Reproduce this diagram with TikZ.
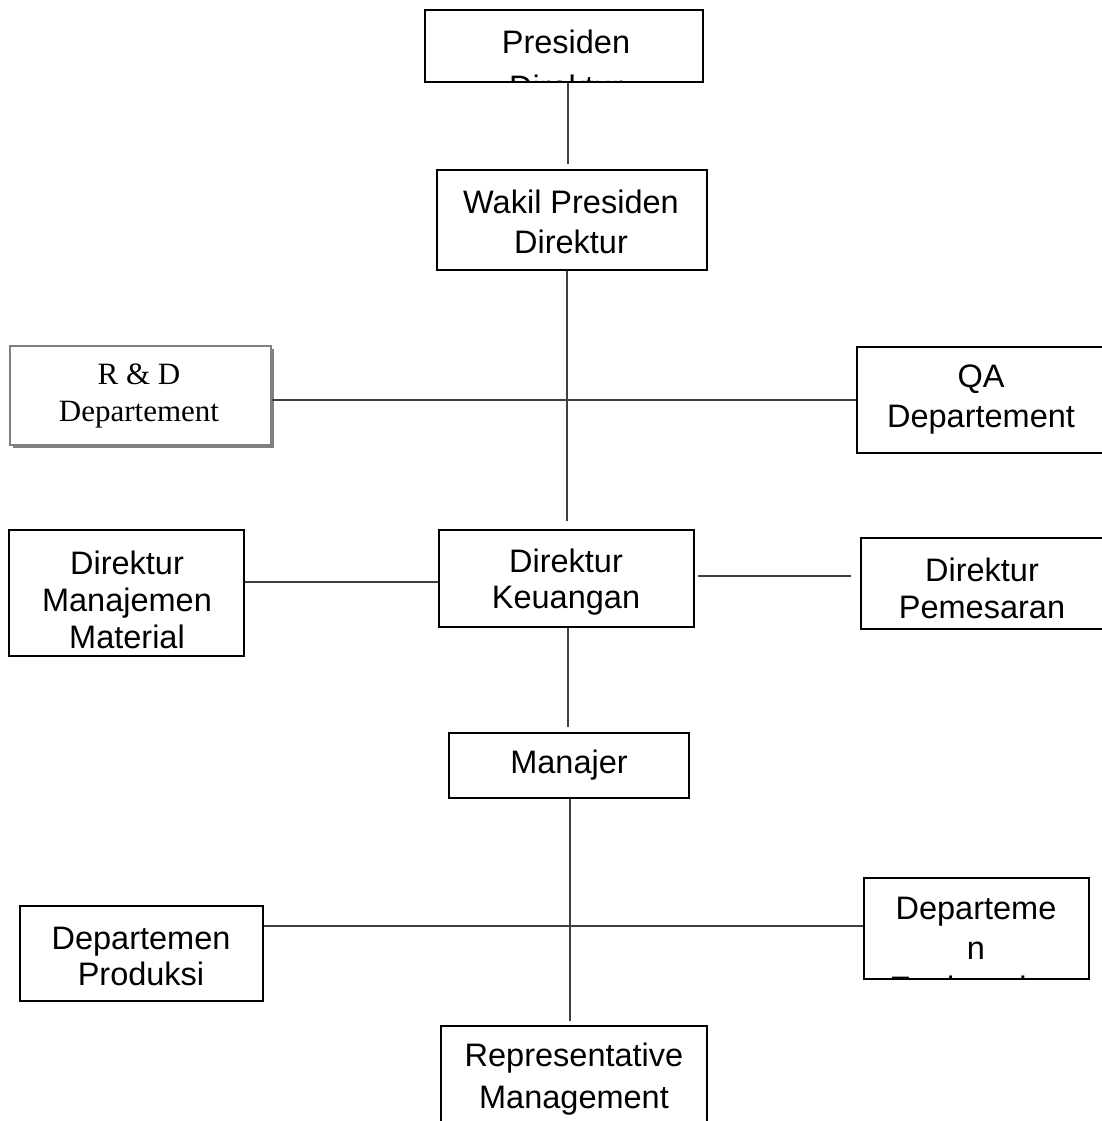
\documentclass[tikz,border=0pt]{standalone}
\usepackage{fontspec}
\setmainfont{Liberation Sans}
\newfontfamily\rdfont{Liberation Serif}
\begin{document}
\begin{tikzpicture}[x=1pt,y=-1pt,
  box/.style={draw=black, line width=1.9pt, rectangle, inner sep=0pt},
  txt/.style={align=center, inner sep=0pt, font=\fontsize{32.5}{40}\selectfont},
  conn/.style={draw=black!75, line width=1.2pt}]
\useasboundingbox (0,0) rectangle (1102,1121);
\fill[white] (0,0) rectangle (1102,1121);

% x / y guide coordinates for connectors
\coordinate (xa) at (568,0);
\coordinate (xb) at (567,0);
\coordinate (xc) at (568,0);
\coordinate (xd) at (570,0);
\coordinate (ya) at (0,400);
\coordinate (yb) at (0,582);
\coordinate (yc) at (0,576);
\coordinate (yd) at (0,926);

% Presiden Direktur (text clipped by box)
\node[box, minimum width=278pt, minimum height=72pt] (pres) at (564,46) {};
\begin{scope}
  \clip (pres.south west) rectangle (pres.north east);
  \node[txt, font=\fontsize{32.5}{45}\selectfont] (prest) at (566,64) {Presiden\\Direktur};
\end{scope}
\node[box, minimum width=278pt, minimum height=72pt] at (pres) {};

% Wakil Presiden Direktur
\node[box, minimum width=270pt, minimum height=100pt] (wakil) at (572,220) {};
\node[txt] (wakilt) at (571,222) {Wakil Presiden\\Direktur};

% R & D Departement
\fill[black!50] (13,349) rectangle (274,448);
\node[box, draw=black!50, fill=white, line width=2pt, minimum width=261pt, minimum height=99pt] (rd) at (140.5,395.5) {};
\node[txt, font=\rdfont\fontsize{31}{37}\selectfont, text=black] (rdt) at (139,396) {R \& D\\Departement};

% QA Departement
\node[box, minimum width=250pt, minimum height=106pt] (qa) at (982,400) {};
\node[txt] (qat) at (981,400) {QA\\Departement};

% Direktur Manajemen Material
\node[box, minimum width=235pt, minimum height=126pt] (mm) at (126.5,593) {};
\node[txt, font=\fontsize{32.5}{37}\selectfont] (mmt) at (127,600) {Direktur\\Manajemen\\Material};

% Direktur Keuangan
\node[box, minimum width=255pt, minimum height=97pt] (keu) at (566.5,578.5) {};
\node[txt, font=\fontsize{32.5}{36}\selectfont] (keut) at (566,582) {Direktur\\Keuangan};

% Direktur Pemesaran
\node[box, minimum width=250pt, minimum height=91pt] (pem) at (986,583.5) {};
\node[txt, font=\fontsize{32.5}{37}\selectfont] (pemt) at (982,588) {Direktur\\Pemesaran};

% Manajer
\node[box, minimum width=240pt, minimum height=65pt] (man) at (569,765.5) {};
\node[txt] (mant) at (569,765) {Manajer};

% Departemen Produksi
\node[box, minimum width=243pt, minimum height=95pt] (prod) at (141.5,953.5) {};
\node[txt, font=\fontsize{32.5}{36}\selectfont] (prodt) at (141,956) {Departemen\\Produksi};

% Departemen Engineering (text clipped by box)
\node[box, minimum width=225pt, minimum height=101pt] (deng) at (976.5,928.5) {};
\begin{scope}
  \clip (deng.south west) rectangle (deng.north east);
  \node[txt, font=\fontsize{32.5}{40}\selectfont] (dengt) at (976,952) {Departeme\\n\\Engineering};
\end{scope}
\node[box, minimum width=225pt, minimum height=101pt] at (deng) {};

% Representative Management
\node[box, minimum width=266pt, minimum height=100pt] (rep) at (574,1076) {};
\node[txt, font=\fontsize{32.5}{42}\selectfont] (rept) at (574,1079) {Representative\\Management};

% connectors
\draw[conn, shorten >=5pt] (pres.south -| xa) -- (wakil.north -| xa);
\draw[conn, shorten >=8pt] (wakil.south -| xb) -- (keu.north -| xb);
\draw[conn] (rd.east |- ya) -- (qa.west |- ya);
\draw[conn] (mm.east |- yb) -- (keu.west |- yb);
\draw[conn, shorten <=3pt, shorten >=9pt] (keu.east |- yc) -- (pem.west |- yc);
\draw[conn, shorten >=5pt] (keu.south -| xc) -- (man.north -| xc);
\draw[conn, shorten >=4pt] (man.south -| xd) -- (rep.north -| xd);
\draw[conn] (prod.east |- yd) -- (deng.west |- yd);
\end{tikzpicture}
\end{document}
